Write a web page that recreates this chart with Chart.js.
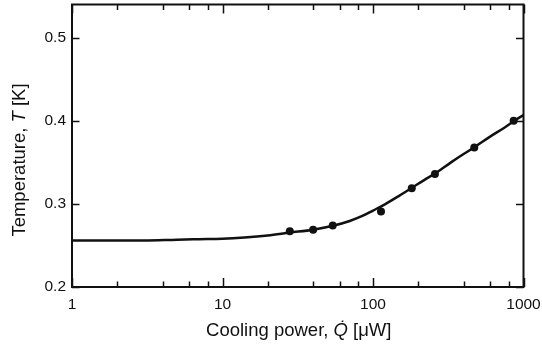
<!DOCTYPE html>
<html>
<head>
<meta charset="utf-8">
<script src="https://cdn.jsdelivr.net/npm/chart.js@4/dist/chart.umd.min.js"></script>
<style>
  html, body { margin: 0; padding: 0; background: #fff; }
  #wrap { width: 542px; height: 347px; }
</style>
</head>
<body>
<div id="wrap"><canvas id="c" width="542" height="347"></canvas></div>
<script>
// Measured cooling power (µW) and temperature (K)
const measuredPower = [28, 40, 54, 113, 181, 258, 471, 860];
const measuredTemp  = [0.267, 0.269, 0.274, 0.291, 0.319, 0.336, 0.368, 0.400];

// Fitted curve, sampled along the axis
const fitPower = [1, 3, 5, 7, 10, 14, 20, 28, 40, 55, 70, 85, 100, 120, 150, 180, 220, 260, 330, 400, 470, 600, 750, 870, 1000];
const fitTemp  = [0.256, 0.256, 0.257, 0.2575, 0.258, 0.2595, 0.262, 0.2655, 0.269, 0.274, 0.2795, 0.2855, 0.292, 0.2995, 0.310, 0.319, 0.329, 0.337, 0.350, 0.360, 0.368, 0.381, 0.392, 0.400, 0.407];

// Axis ticks
const xMajorTicks = [1, 10, 100, 1000];
const xMinorTicks = [2, 4, 6, 8, 20, 40, 60, 80, 200, 400, 600, 800];
const yTicks = [0.2, 0.3, 0.4, 0.5];

const FONT = "'Liberation Sans', Arial, Helvetica, sans-serif";

function drawMixed(ctx, parts, size) {
  let total = 0;
  const widths = parts.map(([t, it]) => {
    ctx.font = (it ? 'italic ' : '') + size + 'px ' + FONT;
    const w = ctx.measureText(t).width;
    total += w;
    return w;
  });
  let x = -total / 2;
  parts.forEach(([t, it], i) => {
    ctx.font = (it ? 'italic ' : '') + size + 'px ' + FONT;
    ctx.fillText(t, x, 0);
    x += widths[i];
  });
}

const framePlugin = {
  id: 'frame',
  afterDraw(chart) {
    const { ctx, chartArea: a, scales: { x, y } } = chart;
    ctx.save();
    ctx.strokeStyle = '#111';
    ctx.lineWidth = 1.5;
    ctx.beginPath();
    const xt = (v, len) => {
      const px = Math.round(x.getPixelForValue(v)) + 0.5;
      ctx.moveTo(px, a.bottom); ctx.lineTo(px, a.bottom - len);
      ctx.moveTo(px, a.top); ctx.lineTo(px, a.top + len);
    };
    xMajorTicks.forEach(v => xt(v, 9));
    xMinorTicks.forEach(v => xt(v, 5.5));
    yTicks.forEach(v => {
      const py = Math.round(y.getPixelForValue(v)) + 0.5;
      ctx.moveTo(a.left, py); ctx.lineTo(a.left + 7.5, py);
      ctx.moveTo(a.right, py); ctx.lineTo(a.right - 7.5, py);
    });
    ctx.stroke();
    ctx.lineWidth = 2;
    ctx.strokeRect(a.left, a.top, a.width, a.height);

    // axis titles with italic symbols
    ctx.fillStyle = '#111';
    ctx.textBaseline = 'middle';
    ctx.textAlign = 'left';
    ctx.save();
    ctx.translate((a.left + a.right) / 2 + 1, 331);
    drawMixed(ctx, [['Cooling power, ', false], ['Q\u0307', true], [' [\u03BCW]', false]], 18.5);
    ctx.restore();
    ctx.save();
    ctx.translate(20, 160);
    ctx.rotate(-Math.PI / 2);
    drawMixed(ctx, [['Temperature, ', false], ['T', true], [' [K]', false]], 18.5);
    ctx.restore();
    ctx.restore();
  }
};

new Chart(document.getElementById('c'), {
  type: 'scatter',
  data: {
    datasets: [
      {
        label: 'measured',
        data: measuredPower.map((p, i) => ({ x: p, y: measuredTemp[i] })),
        pointRadius: 4,
        pointBackgroundColor: '#111',
        pointBorderColor: '#111',
        pointBorderWidth: 0,
        showLine: false
      },
      {
        label: 'fit',
        data: fitPower.map((p, i) => ({ x: p, y: fitTemp[i] })),
        showLine: true,
        pointRadius: 0,
        borderColor: '#111',
        borderWidth: 2.5,
        cubicInterpolationMode: 'monotone',
        fill: false
      }
    ]
  },
  options: {
    responsive: false,
    animation: false,
    devicePixelRatio: 1,
    layout: { padding: { top: 4.5, right: 18.5, left: 0, bottom: 0 } },
    plugins: { legend: { display: false }, tooltip: { enabled: false } },
    scales: {
      x: {
        type: 'logarithmic',
        min: 1,
        max: 1000,
        grid: { display: false, drawTicks: false },
        border: { display: false },
        afterBuildTicks: s => { s.ticks = xMajorTicks.map(v => ({ value: v })); },
        afterFit: s => { s.height = 60; s.paddingLeft = 0; s.paddingRight = 0; },
        ticks: {
          color: '#111',
          font: { family: FONT, size: 15.5 },
          padding: 8,
          maxRotation: 0,
          autoSkip: false,
          callback: v => String(v)
        }
      },
      y: {
        min: 0.2,
        max: 0.54,
        grid: { display: false, drawTicks: false },
        border: { display: false },
        afterBuildTicks: s => { s.ticks = yTicks.map(v => ({ value: v })); },
        afterFit: s => { s.width = 72; s.paddingTop = 0; s.paddingBottom = 0; },
        ticks: {
          color: '#111',
          font: { family: FONT, size: 15.5 },
          padding: 6,
          callback: v => v.toFixed(1)
        }
      }
    }
  },
  plugins: [framePlugin]
});
</script>
</body>
</html>
